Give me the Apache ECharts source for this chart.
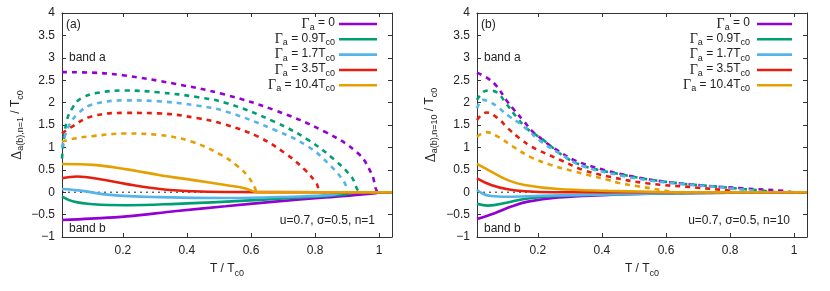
<!DOCTYPE html>
<html><head><meta charset="utf-8">
<script src="https://cdn.jsdelivr.net/npm/echarts@6/dist/echarts.min.js"></script>
<style>html,body{margin:0;padding:0;background:#fff}#c{width:830px;height:291px}</style>
</head><body><div id="c"></div>
<script>
// ---------- data ----------
const xTicks = [0.2, 0.4, 0.6, 0.8, 1];
const gammaLabels = ['0', '0.9', '1.7', '3.5', '10.4'];
const zeroLine = [[0.01, 0], [1.04, 0]];

// panel (a): n = 1, band a (dashed)
const n1_a_g0 = [[0.01,2.68],[0.1,2.67],[0.2,2.61],[0.362,2.42],[0.518,2.18],[0.674,1.83],[0.83,1.35],[0.934,0.87],[0.976,0.42],[1.0,0],[1.04,0]];
const n1_a_g1 = [[0.01,0.75],[0.024,1.57],[0.045,1.91],[0.071,2.10],[0.123,2.22],[0.206,2.27],[0.31,2.23],[0.435,2.12],[0.528,1.98],[0.674,1.57],[0.778,1.17],[0.861,0.72],[0.913,0.35],[0.945,0],[1.04,0]];
const n1_a_g2 = [[0.01,1.0],[0.03,1.46],[0.061,1.76],[0.102,1.95],[0.206,2.05],[0.31,2.03],[0.435,1.93],[0.518,1.81],[0.674,1.39],[0.778,1.02],[0.851,0.57],[0.893,0.20],[0.903,0],[1.04,0]];
const n1_a_g3 = [[0.01,1.31],[0.04,1.46],[0.102,1.69],[0.206,1.77],[0.31,1.76],[0.435,1.65],[0.519,1.51],[0.622,1.24],[0.706,0.87],[0.768,0.50],[0.804,0.20],[0.82,0],[1.04,0]];
const n1_a_g4 = [[0.01,1.13],[0.05,1.20],[0.102,1.25],[0.206,1.31],[0.31,1.28],[0.414,1.13],[0.507,0.83],[0.56,0.57],[0.591,0.35],[0.612,0.10],[0.62,0],[1.04,0]];
// panel (a): n = 1, band b (solid)
const n1_b_g0 = [[0.01,-0.62],[0.1,-0.59],[0.212,-0.54],[0.368,-0.42],[0.52,-0.315],[0.674,-0.21],[0.83,-0.12],[0.99,-0.02],[1.0,0],[1.04,0]];
const n1_b_g1 = [[0.01,-0.10],[0.046,-0.21],[0.108,-0.27],[0.212,-0.29],[0.368,-0.26],[0.524,-0.21],[0.726,-0.13],[0.88,-0.06],[0.945,0],[1.04,0]];
const n1_b_g2 = [[0.01,0.07],[0.067,0.035],[0.16,-0.06],[0.316,-0.11],[0.524,-0.13],[0.726,-0.10],[0.85,-0.06],[0.903,0],[1.04,0]];
const n1_b_g3 = [[0.01,0.31],[0.057,0.35],[0.129,0.29],[0.212,0.18],[0.316,0.07],[0.42,0.02],[0.524,0.005],[0.82,0],[1.04,0]];
const n1_b_g4 = [[0.01,0.63],[0.108,0.61],[0.212,0.51],[0.316,0.38],[0.42,0.27],[0.52,0.16],[0.58,0.09],[0.62,0],[1.04,0]];

// panel (b): n = 10, band a (dashed)
const n10_a_g0 = [[0.01,2.67],[0.044,2.54],[0.07,2.38],[0.101,2.06],[0.122,1.87],[0.158,1.57],[0.184,1.35],[0.21,1.20],[0.236,1.05],[0.26,0.94],[0.312,0.72],[0.405,0.50],[0.497,0.35],[0.601,0.23],[0.716,0.15],[0.84,0.087],[0.966,0.03],[1.0,0],[1.04,0]];
const n10_a_g1 = [[0.01,2.06],[0.03,2.24],[0.049,2.27],[0.075,2.21],[0.101,1.98],[0.132,1.69],[0.164,1.43],[0.19,1.30],[0.216,1.17],[0.29,0.76],[0.36,0.55],[0.45,0.41],[0.55,0.28],[0.65,0.19],[0.75,0.13],[0.84,0.07],[0.9,0.035],[0.945,0],[1.04,0]];
const n10_a_g2 = [[0.01,1.87],[0.028,2.06],[0.054,2.0],[0.08,1.87],[0.111,1.69],[0.143,1.54],[0.174,1.35],[0.21,1.13],[0.28,0.81],[0.34,0.58],[0.46,0.37],[0.55,0.26],[0.65,0.18],[0.75,0.12],[0.82,0.07],[0.88,0.03],[0.903,0],[1.04,0]];
const n10_a_g3 = [[0.01,1.61],[0.039,1.78],[0.075,1.65],[0.106,1.43],[0.143,1.20],[0.179,1.02],[0.207,0.92],[0.27,0.72],[0.34,0.50],[0.42,0.35],[0.54,0.20],[0.7,0.10],[0.79,0.04],[0.82,0],[1.04,0]];
const n10_a_g4 = [[0.01,1.24],[0.039,1.34],[0.075,1.24],[0.122,1.02],[0.176,0.79],[0.24,0.61],[0.31,0.47],[0.36,0.38],[0.42,0.27],[0.45,0.21],[0.507,0.14],[0.6,0.03],[0.62,0],[1.04,0]];
// panel (b): n = 10, band b (solid)
const n10_b_g0 = [[0.01,-0.60],[0.065,-0.47],[0.117,-0.32],[0.169,-0.21],[0.263,-0.12],[0.42,-0.06],[0.6,-0.03],[0.8,-0.01],[1.0,0],[1.04,0]];
const n10_b_g1 = [[0.01,-0.26],[0.044,-0.30],[0.106,-0.23],[0.158,-0.15],[0.263,-0.085],[0.42,-0.05],[0.6,-0.025],[0.8,-0.01],[0.945,0],[1.04,0]];
const n10_b_g2 = [[0.01,0.05],[0.03,-0.04],[0.054,-0.085],[0.106,-0.10],[0.21,-0.08],[0.42,-0.05],[0.6,-0.025],[0.8,-0.01],[0.903,0],[1.04,0]];
const n10_b_g3 = [[0.01,0.31],[0.054,0.16],[0.106,0.065],[0.16,0.02],[0.25,0.0],[0.82,0],[1.04,0]];
const n10_b_g4 = [[0.01,0.63],[0.054,0.46],[0.106,0.27],[0.158,0.16],[0.263,0.07],[0.42,0.03],[0.55,0.01],[0.62,0],[1.04,0]];

// ---------- styles ----------
const palette = ['#9400d3', '#009e73', '#56b4e9', '#e51e10', '#e69f00'];
const FONT = 'Liberation Sans, Arial, sans-serif';
const TXT = '#222';

const panels = [
  { a: [n1_a_g0, n1_a_g1, n1_a_g2, n1_a_g3, n1_a_g4], b: [n1_b_g0, n1_b_g1, n1_b_g2, n1_b_g3, n1_b_g4] },
  { a: [n10_a_g0, n10_a_g1, n10_a_g2, n10_a_g3, n10_a_g4], b: [n10_b_g0, n10_b_g1, n10_b_g2, n10_b_g3, n10_b_g4] }
];

const grids = [
  { left: 62, top: 13, width: 330, height: 224 },
  { left: 477, top: 13, width: 330, height: 224 }
];

const xAxes = [], yAxes = [], series = [];
grids.forEach((g, gi) => {
  const common = { gridIndex: gi, type: 'value', min: 0.01, max: 1.04, splitLine: { show: false },
    axisLine: { show: true, onZero: false, lineStyle: { color: '#333', width: 1 } } };
  xAxes.push(Object.assign({}, common, { position: 'bottom',
    axisTick: { inside: true, length: 4, customValues: xTicks, lineStyle: { color: '#333' } },
    axisLabel: { customValues: xTicks, margin: 8, fontFamily: FONT, fontSize: 12, color: TXT, formatter: v => String(v) } }));
  xAxes.push(Object.assign({}, common, { position: 'top',
    axisTick: { inside: true, length: 4, customValues: xTicks, lineStyle: { color: '#333' } },
    axisLabel: { show: false } }));
  const ycommon = { gridIndex: gi, type: 'value', min: -1, max: 4, interval: 0.5, splitLine: { show: false },
    axisLine: { show: true, onZero: false, lineStyle: { color: '#333', width: 1 } },
    axisTick: { inside: true, length: 4, lineStyle: { color: '#333' } } };
  yAxes.push(Object.assign({}, ycommon, { position: 'left',
    axisLabel: { margin: 7, fontFamily: FONT, fontSize: 12, color: TXT, formatter: v => String(v).replace('-', '\u2212') } }));
  yAxes.push(Object.assign({}, ycommon, { position: 'right', axisLabel: { show: false } }));

  const xi = gi * 2, yi = gi * 2;
  series.push({ type: 'line', xAxisIndex: xi, yAxisIndex: yi, data: zeroLine, symbol: 'none', silent: true,
    lineStyle: { color: '#222', width: 1, type: [2, 4] }, z: 1 });
  const p = panels[gi];
  for (let k = 0; k < 5; k++) {
    series.push({ type: 'line', xAxisIndex: xi, yAxisIndex: yi, data: p.a[k], symbol: 'none', silent: true,
      smooth: 0.4, lineStyle: { color: palette[k], width: 2.6, type: [5, 5], cap: 'butt' }, z: 2 + k * 2 });
    series.push({ type: 'line', xAxisIndex: xi, yAxisIndex: yi, data: p.b[k], symbol: 'none', silent: true,
      smooth: 0.4, lineStyle: { color: palette[k], width: 2.6 }, z: 3 + k * 2 });
  }
});

// ---------- text / decorations ----------
const rich = {
  t: { fontFamily: FONT, fontSize: 12, color: TXT, lineHeight: 14, verticalAlign: 'top' },
  g: { fontFamily: 'Liberation Serif, serif', fontSize: 14, color: TXT, lineHeight: 14, verticalAlign: 'top' },
  s: { fontFamily: FONT, fontSize: 9, color: TXT, lineHeight: 10, padding: [6, 0, 0, 0], verticalAlign: 'top' }
};
function txt(x, y, text, align, extra) {
  return Object.assign({ type: 'text', x, y, silent: true, z: 100,
    style: { text, fill: TXT, font: '12px ' + FONT, align: align || 'left', verticalAlign: 'middle', rich } }, extra || {});
}
const graphics = [];
const panelText = [
  { tag: '(a)', x0: 62, params: 'u=0.7, \u03c3=0.5, n=1', sub: 'a(b),n=1', legR: 335, legL0: 339, legL1: 377, ytx: 17 },
  { tag: '(b)', x0: 477, params: 'u=0.7, \u03c3=0.5, n=10', sub: 'a(b),n=10', legR: 750, legL0: 757, legL1: 792, ytx: 431 }
];
const legendY = [24, 39.3, 54.6, 70, 85.3];
panelText.forEach((pt, gi) => {
  graphics.push(txt(pt.x0 + 4, 25, pt.tag));
  graphics.push(txt(pt.x0 + 7, 57.5, 'band a'));
  graphics.push(txt(pt.x0 + 7, 229, 'band b'));
  graphics.push(txt(pt.x0 + 313, 221, pt.params, 'right'));
  graphics.push(txt(pt.x0 + 165, 270, '{t|T / T}{s|c0}', 'center'));
  graphics.push(txt(pt.ytx, 125, '{g|\u0394}{s|' + pt.sub + '}{t| / T}{s|c0}', 'center', { rotation: Math.PI / 2 }));
  gammaLabels.forEach((gl, k) => {
    const body = gl === '0' ? '{t| = 0}' : '{t| = ' + gl + 'T}{s|c0}';
    graphics.push(txt(pt.legR, legendY[k], '{g|\u0393}{s|a}' + body, 'right'));
    graphics.push({ type: 'line', silent: true, z: 100,
      shape: { x1: pt.legL0, y1: legendY[k], x2: pt.legL1, y2: legendY[k] },
      style: { stroke: palette[k], lineWidth: 2.6 } });
  });
});

const chart = echarts.init(document.getElementById('c'), null, { renderer: 'canvas' });
chart.setOption({
  animation: false,
  backgroundColor: '#fff',
  grid: grids,
  xAxis: xAxes,
  yAxis: yAxes,
  series,
  graphic: graphics
});
</script>
</body></html>
